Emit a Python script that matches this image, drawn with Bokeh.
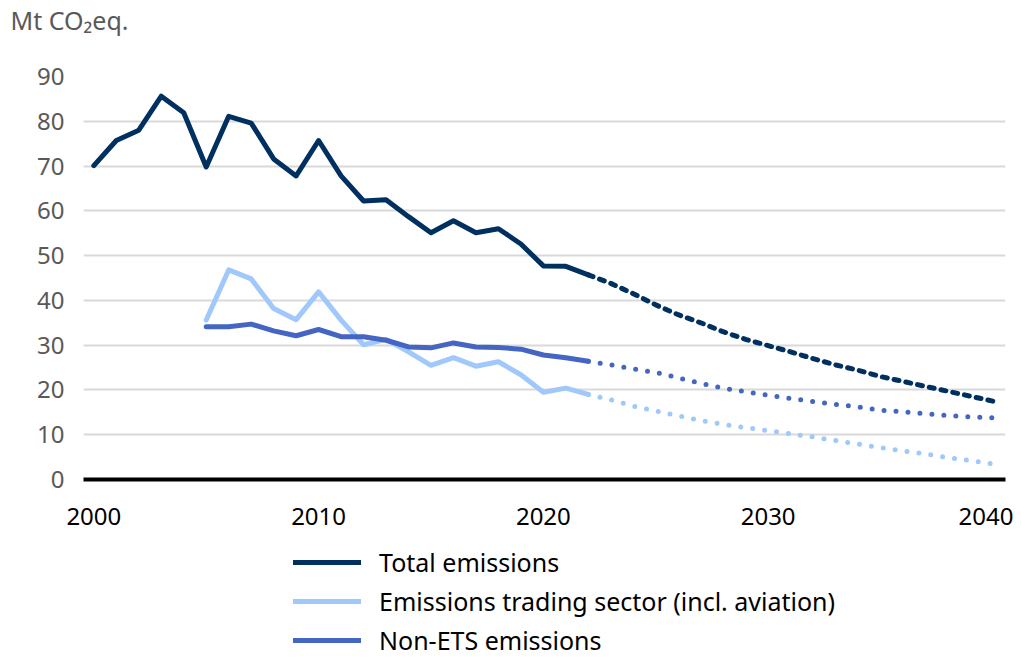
from bokeh.plotting import figure
from bokeh.models import Range1d, Legend, LegendItem, Title, FixedTicker
from bokeh.layouts import column
from bokeh.embed import file_html
from bokeh.resources import INLINE

# ---- data ----
hist_years = list(range(2000, 2023))
total_hist = [70.1, 75.7, 78.0, 85.6, 81.9, 69.8, 81.1, 79.6, 71.6, 67.8, 75.7,
              67.8, 62.2, 62.5, 58.7, 55.1, 57.8, 55.1, 56.0, 52.6, 47.7, 47.6, 45.7]
ets_years = list(range(2005, 2023))
ets_hist = [35.6, 46.8, 44.8, 38.2, 35.7, 41.9, 35.6, 30.1, 31.3, 28.5, 25.5,
            27.2, 25.3, 26.3, 23.4, 19.5, 20.4, 19.0]
nonets_hist = [34.1, 34.1, 34.7, 33.2, 32.1, 33.5, 31.9, 31.9, 31.1, 29.6, 29.4,
               30.5, 29.6, 29.5, 29.1, 27.8, 27.2, 26.4]
proj_years = list(range(2022, 2041))
total_proj = [45.7, 43.8, 41.5, 39.0, 36.8, 35.0, 33.0, 31.3, 29.9, 28.5, 27.0,
              25.6, 24.4, 23.0, 21.9, 20.8, 19.7, 18.6, 17.5]
ets_proj = [19.0, 17.8, 16.4, 15.3, 14.2, 13.2, 12.3, 11.6, 10.9, 10.2, 9.5,
            8.7, 7.9, 7.1, 6.4, 5.7, 4.9, 4.2, 3.5]
nonets_proj = [26.4, 25.6, 24.7, 23.9, 22.7, 21.5, 20.4, 19.6, 18.8, 18.1, 17.4,
               16.8, 16.2, 15.5, 15.1, 14.7, 14.3, 14.0, 13.8]
x_ticks = [2000, 2010, 2020, 2030, 2040]
y_ticks = [0, 10, 20, 30, 40, 50, 60, 70, 80, 90]
series_names = ["Total emissions", "Emissions trading sector (incl. aviation)", "Non-ETS emissions"]
unit_label = "Mt CO\u2082eq."

C_TOTAL = "#00305f"
C_ETS = "#a0c8fb"
C_NON = "#4565c3"
COLORS = [C_TOTAL, C_ETS, C_NON]
FONT = "Noto Sans"

W = 1013
PH = 545
p = figure(width=W, height=PH, output_backend="svg", toolbar_location=None,
           x_range=Range1d(1999.54, 2040.56), y_range=Range1d(0, 90),
           min_border_left=83, min_border_right=W - 1005, min_border_top=0,
           min_border_bottom=PH - 479)
p.outline_line_color = None
p.background_fill_color = "white"
p.border_fill_color = "white"

p.xgrid.grid_line_color = None
p.ygrid.grid_line_color = "#d9d9d9"
p.ygrid.grid_line_width = 2
p.yaxis.ticker = FixedTicker(ticks=y_ticks)
p.xaxis.ticker = FixedTicker(ticks=x_ticks)

p.yaxis.axis_line_color = None
p.yaxis.major_tick_line_color = None
p.yaxis.minor_tick_line_color = None
p.yaxis.major_label_text_font = FONT
p.yaxis.major_label_text_font_size = "24px"
p.yaxis.major_label_text_color = "#595959"
p.yaxis.major_label_standoff = 13

p.xaxis.axis_line_color = "black"
p.xaxis.axis_line_width = 4
p.xaxis.major_tick_line_color = None
p.xaxis.minor_tick_line_color = None
p.xaxis.major_label_text_font = FONT
p.xaxis.major_label_text_font_size = "24px"
p.xaxis.major_label_text_color = "black"
p.xaxis.major_label_standoff = 22

lw = 5
p.line(hist_years, total_hist, line_color=C_TOTAL, line_width=lw, line_join="round", line_cap="round")
p.line(ets_years, ets_hist, line_color=C_ETS, line_width=lw, line_join="round", line_cap="round")
p.line(ets_years, nonets_hist, line_color=C_NON, line_width=lw, line_join="round", line_cap="round")

p.line(proj_years, total_proj, line_color=C_TOTAL, line_width=lw, line_cap="round", line_dash="5 7")
p.line(proj_years, ets_proj, line_color=C_ETS, line_width=lw, line_cap="round", line_dash="0 12")
p.line(proj_years, nonets_proj, line_color=C_NON, line_width=lw, line_cap="round", line_dash="0 12")

# spacer (closest to frame) and the unit title above it
p.add_layout(Title(text=" ", text_font_size="1px", standoff=37), "above")
p.add_layout(Title(text=unit_label, align="left", offset=-73, standoff=0,
                   text_font=FONT, text_font_size="25px", text_font_style="normal",
                   text_color="#595959"), "above")

# ---- legend in a separate strip below ----
LH = 657 - PH
q = figure(width=W, height=LH, output_backend="svg", toolbar_location=None,
           x_range=Range1d(0, 1), y_range=Range1d(0, 1),
           min_border_left=0, min_border_right=0, min_border_top=0, min_border_bottom=0)
q.axis.visible = False
q.grid.visible = False
q.outline_line_color = None
q.border_fill_color = "white"
items = []
for name, col in zip(series_names, COLORS):
    r = q.line([float("nan")], [float("nan")], line_color=col, line_width=5, line_cap="round")
    items.append(LegendItem(label=name, renderers=[r]))
legend = Legend(items=items, location=(210, 0), orientation="vertical",
                label_text_font=FONT, label_text_font_size="25px", label_text_color="black",
                glyph_width=68, glyph_height=34, label_height=34, spacing=5,
                label_standoff=18, padding=0, margin=0,
                border_line_color=None, background_fill_alpha=0)
q.add_layout(legend, "center")

layout = column(p, q, spacing=0)
open("out.html", "w").write(file_html(layout, INLINE))
